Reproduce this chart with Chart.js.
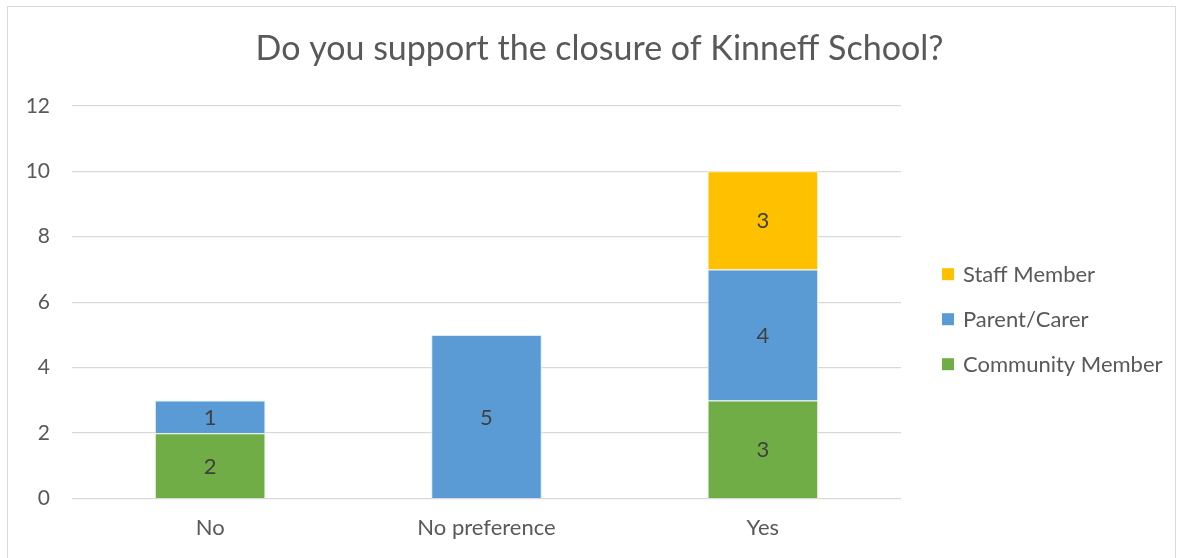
<!DOCTYPE html>
<html>
<head>
<meta charset="utf-8">
<script src="https://cdn.jsdelivr.net/npm/chart.js@4"></script>
<style>
  html, body { margin: 0; padding: 0; background: #fff; }
  #wrap { position: absolute; left: 7px; top: 6px; width: 1169px; height: 560px; border: 1px solid #d9d9d9; box-sizing: border-box; }
  #chart { display: block; }
</style>
</head>
<body>
<div id="wrap"><canvas id="chart" width="1167" height="552"></canvas></div>
<script>
// dados do gráfico
const categorias = ['No', 'No preference', 'Yes'];
const community = [2, 0, 3];
const parent = [1, 5, 4];
const staff = [0, 0, 3];
const yTicks = [0, 2, 4, 6, 8, 10, 12];

const fonte = 'Lato, "Open Sans", sans-serif';
const cinza = '#595959';

// rótulos dentro das barras
const rotulos = {
    id: 'rotulos',
    afterDatasetsDraw(chart) {
        const ctx = chart.ctx;
        ctx.save();
        ctx.font = '22px ' + fonte;
        ctx.fillStyle = '#404040';
        ctx.textAlign = 'center';
        ctx.textBaseline = 'middle';
        chart.data.datasets.forEach((ds, i) => {
            chart.getDatasetMeta(i).data.forEach((bar, j) => {
                const v = ds.data[j];
                if (!v) return;
                ctx.fillText(String(v), bar.x, (bar.y + bar.base) / 2 + 1);
            });
        });
        ctx.restore();
    }
};

// legenda à direita, ordem invertida
const legenda = {
    id: 'legenda',
    afterDraw(chart) {
        const ctx = chart.ctx;
        const area = chart.chartArea;
        const itens = chart.data.datasets.slice().reverse();
        const x = area.right + 41;
        const meio = (area.top + area.bottom) / 2 + 17;
        ctx.save();
        ctx.font = '22px ' + fonte;
        ctx.textBaseline = 'middle';
        itens.forEach((ds, i) => {
            const y = meio + (i - 1) * 45;
            ctx.fillStyle = ds.backgroundColor;
            ctx.fillRect(x, y - 6, 12, 12);
            ctx.fillStyle = cinza;
            ctx.fillText(ds.label, x + 21, y + 1);
        });
        ctx.restore();
    }
};

new Chart(document.getElementById('chart').getContext('2d'), {
    type: 'bar',
    data: {
        labels: categorias,
        datasets: [
            { label: 'Community Member', data: community, backgroundColor: '#70ad47', borderColor: '#e2f0d9', borderWidth: 1 },
            { label: 'Parent/Carer', data: parent, backgroundColor: '#5b9bd5', borderColor: '#deebf7', borderWidth: 1 },
            { label: 'Staff Member', data: staff, backgroundColor: '#ffc000', borderColor: '#fff2cc', borderWidth: 1 }
        ]
    },
    options: {
        responsive: false,
        animation: false,
        layout: { padding: { left: 16, right: 0, top: 10, bottom: 10 } },
        datasets: { bar: { categoryPercentage: 1, barPercentage: 0.4 } },
        plugins: {
            title: {
                display: true,
                text: 'Do you support the closure of Kinneff School?',
                color: cinza,
                font: { family: fonte, size: 34, weight: 'normal' },
                padding: { top: 12, bottom: 36 }
            },
            legend: { display: false },
            tooltip: { enabled: false }
        },
        scales: {
            x: {
                stacked: true,
                grid: { display: false },
                border: { display: false },
                ticks: { color: cinza, font: { family: fonte, size: 22 }, padding: 8 }
            },
            y: {
                stacked: true,
                min: 0,
                max: 12,
                afterBuildTicks: (s) => { s.ticks = yTicks.map(v => ({ value: v })); },
                afterFit: (s) => { s.width = 48; },
                grid: { color: '#d9d9d9', lineWidth: 1.3, drawTicks: false },
                border: { display: false },
                ticks: { color: cinza, font: { family: fonte, size: 21 }, padding: 22 }
            },
            // espaço reservado para a legenda
            espaco: {
                type: 'linear',
                position: 'right',
                grid: { display: false },
                border: { display: false },
                ticks: { display: false },
                afterFit: (s) => { s.width = 274; }
            }
        }
    },
    plugins: [rotulos, legenda]
});
</script>
</body>
</html>
